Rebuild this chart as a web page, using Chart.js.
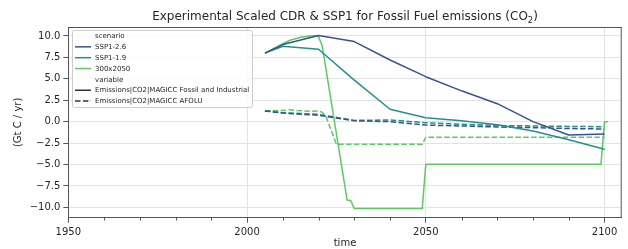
<!DOCTYPE html>
<html>
<head>
<meta charset="utf-8">
<script src="https://cdn.jsdelivr.net/npm/chart.js@4.4.1/dist/chart.umd.min.js"></script>
<style>
  html, body { margin: 0; padding: 0; background: #ffffff; }
  #wrap { width: 628px; height: 249px; }
</style>
</head>
<body>
<div id="wrap"><canvas id="c" width="628" height="249"></canvas></div>
<script>
// ---------------- data ----------------
const titleMain = "Experimental Scaled CDR & SSP1 for Fossil Fuel emissions (CO";
const titleSub = "2";
const titleEnd = ")";
const xLabel = "time";
const yLabel = "(Gt C / yr)";

const scenarioNames = ["SSP1-2.6", "SSP1-1.9", "300x2050"];
const variableNames = ["Emissions|CO2|MAGICC Fossil and Industrial", "Emissions|CO2|MAGICC AFOLU"];

const sspYears = [2005, 2010, 2020, 2030, 2040, 2050, 2060, 2070, 2080, 2090, 2100];
const ssp126Fossil = [8.0, 9.0, 10.05, 9.35, 7.2, 5.25, 3.6, 2.1, 0.0, -1.55, -1.45];
const ssp119Fossil = [8.0, 8.8, 8.45, 4.85, 1.45, 0.45, 0.1, -0.35, -1.1, -2.1, -3.23];
const ssp126Afolu = [1.25, 1.0, 0.75, 0.1, 0.0, -0.4, -0.5, -0.62, -0.7, -0.8, -0.86];
const ssp119Afolu = [1.25, 1.05, 0.85, 0.15, 0.2, -0.12, -0.3, -0.45, -0.5, -0.55, -0.6];

const cdrFossilYears = [2005, 2010, 2012, 2015, 2019, 2020, 2021, 2028, 2029, 2030, 2049, 2050, 2099, 2100, 2101];
const cdrFossil = [8.0, 9.1, 9.5, 9.85, 10.05, 9.9, 8.9, -9.15, -9.2, -10.15, -10.15, -4.98, -4.98, 0.0, 0.0];
const cdrAfoluYears = [2005, 2010, 2012, 2014, 2016, 2018, 2020, 2021, 2022, 2025, 2049, 2050, 2100];
const cdrAfolu = [1.25, 1.3, 1.4, 1.3, 1.25, 1.2, 1.25, 1.1, 0.7, -2.65, -2.65, -1.82, -1.82];

const yTickValues = [-10, -7.5, -5, -2.5, 0, 2.5, 5, 7.5, 10];
const xTickValues = [1950, 1960, 1970, 1980, 1990, 2000, 2010, 2020, 2030, 2040, 2050, 2060, 2070, 2080, 2090, 2100];
const xMajorTicks = [1950, 2000, 2050, 2100];

// ---------------- style ----------------
const FONT = "'DejaVu Sans', 'Liberation Sans', sans-serif";
const colors = ["#3b528b", "#21918c", "#5ec962"];
const DASH = [5.5, 2.4];
const TXT = "#262626";
const SPINE = "#555555";
const GRID = "#e3e3e3";

function pts(xs, ys) { return xs.map((x, i) => ({ x: x, y: ys[i] })); }

function ds(label, data, color, dashed) {
  return {
    label: label, data: data, borderColor: color, backgroundColor: color,
    borderWidth: 1.5, borderDash: dashed ? DASH : [], pointRadius: 0,
    tension: 0, fill: false, borderCapStyle: 'butt', borderJoinStyle: 'round'
  };
}

const datasets = [
  ds(scenarioNames[0] + " fossil", pts(sspYears, ssp126Fossil), colors[0], false),
  ds(scenarioNames[1] + " fossil", pts(sspYears, ssp119Fossil), colors[1], false),
  ds(scenarioNames[2] + " fossil", pts(cdrFossilYears, cdrFossil), colors[2], false),
  ds(scenarioNames[0] + " afolu", pts(sspYears, ssp126Afolu), colors[0], true),
  ds(scenarioNames[1] + " afolu", pts(sspYears, ssp119Afolu), colors[1], true),
  ds(scenarioNames[2] + " afolu", pts(cdrAfoluYears, cdrAfolu), colors[2], true)
];

function fmtY(v) {
  const s = Number(v).toFixed(1);
  return s.replace('-', '\u2212');
}

const overlay = {
  id: 'overlay',
  afterDraw(chart) {
    const ctx = chart.ctx;
    const a = chart.chartArea;
    const xs = chart.scales.x;
    ctx.save();
    // top and right spines
    ctx.strokeStyle = SPINE;
    ctx.lineWidth = 1;
    ctx.beginPath();
    ctx.moveTo(a.left, a.top + 0.5);
    ctx.lineTo(a.right, a.top + 0.5);
    ctx.moveTo(a.right - 0.5, a.top);
    ctx.lineTo(a.right - 0.5, a.bottom);
    ctx.stroke();
    // minor ticks
    ctx.beginPath();
    xTickValues.forEach(v => {
      if (xMajorTicks.indexOf(v) >= 0) return;
      const px = Math.round(xs.getPixelForValue(v)) + 0.5;
      ctx.moveTo(px, a.bottom);
      ctx.lineTo(px, a.bottom + 2.8);
    });
    ctx.stroke();

    // title
    ctx.fillStyle = TXT;
    ctx.textBaseline = 'alphabetic';
    ctx.textAlign = 'left';
    ctx.font = "12px " + FONT;
    const w1 = ctx.measureText(titleMain).width;
    const w3 = ctx.measureText(titleEnd).width;
    ctx.font = "8.4px " + FONT;
    const w2 = ctx.measureText(titleSub).width;
    const total = w1 + w2 + w3;
    const cx = (a.left + a.right) / 2;
    let tx = cx - total / 2;
    const ty = 20.4;
    ctx.font = "12px " + FONT;
    ctx.fillText(titleMain, tx, ty);
    ctx.font = "8.4px " + FONT;
    ctx.fillText(titleSub, tx + w1, ty + 2.2);
    ctx.font = "12px " + FONT;
    ctx.fillText(titleEnd, tx + w1 + w2, ty);

    // axis labels
    ctx.font = "10px " + FONT;
    ctx.textAlign = 'center';
    ctx.textBaseline = 'middle';
    ctx.fillText(xLabel, cx, 243.5);
    ctx.save();
    ctx.translate(18.5, (a.top + a.bottom) / 2);
    ctx.rotate(-Math.PI / 2);
    ctx.fillText(yLabel, 0, 0);
    ctx.restore();

    // legend
    const lx = 72, ly = 30, lw = 180, lh = 77;
    ctx.fillStyle = 'rgba(255,255,255,0.8)';
    ctx.strokeStyle = '#cccccc';
    ctx.lineWidth = 1;
    ctx.beginPath();
    if (ctx.roundRect) { ctx.roundRect(lx + 0.5, ly + 0.5, lw, lh, 2); }
    else { ctx.rect(lx + 0.5, ly + 0.5, lw, lh); }
    ctx.fill();
    ctx.stroke();

    const rows = [
      { text: "scenario", color: null },
      { text: scenarioNames[0], color: colors[0], dash: false },
      { text: scenarioNames[1], color: colors[1], dash: false },
      { text: scenarioNames[2], color: colors[2], dash: false },
      { text: "variable", color: null },
      { text: variableNames[0], color: "#333333", dash: false },
      { text: variableNames[1], color: "#333333", dash: true }
    ];
    ctx.font = "7px " + FONT;
    ctx.textAlign = 'left';
    ctx.textBaseline = 'middle';
    rows.forEach((r, i) => {
      const y = 36 + i * 10.85;
      if (r.color) {
        ctx.strokeStyle = r.color;
        ctx.lineWidth = 1.5;
        ctx.setLineDash(r.dash ? DASH : []);
        ctx.beginPath();
        ctx.moveTo(75, y);
        ctx.lineTo(91, y);
        ctx.stroke();
        ctx.setLineDash([]);
      }
      ctx.fillStyle = TXT;
      ctx.fillText(r.text, 95, y + 0.3);
    });
    ctx.restore();
  }
};

new Chart(document.getElementById('c'), {
  type: 'line',
  data: { datasets: datasets },
  plugins: [overlay],
  options: {
    responsive: false,
    animation: false,
    events: [],
    layout: { padding: { top: 27, right: 6.3, left: 0, bottom: 0 } },
    plugins: { legend: { display: false }, title: { display: false }, tooltip: { enabled: false } },
    scales: {
      x: {
        type: 'linear',
        min: 1950,
        max: 2104.8,
        afterBuildTicks: (s) => { s.ticks = xTickValues.map(v => ({ value: v })); },
        afterFit: (s) => { s.height = 31.3; },
        ticks: {
          autoSkip: false, maxRotation: 0, padding: 3.5,
          color: TXT, font: { family: FONT, size: 10 },
          callback: (v) => (xMajorTicks.indexOf(v) >= 0 ? String(v) : '')
        },
        grid: {
          color: (c) => (c.tick && xMajorTicks.indexOf(c.tick.value) >= 0 ? GRID : 'rgba(0,0,0,0)'),
          tickColor: (c) => (c.tick && xMajorTicks.indexOf(c.tick.value) >= 0 ? SPINE : 'rgba(0,0,0,0)'),
          tickLength: 5, lineWidth: 1
        },
        border: { display: true, color: SPINE, width: 1 }
      },
      y: {
        type: 'linear',
        min: -11.21,
        max: 11.05,
        afterBuildTicks: (s) => { s.ticks = yTickValues.map(v => ({ value: v })); },
        afterFit: (s) => { s.width = 68.3; },
        ticks: {
          padding: 3, color: TXT, font: { family: FONT, size: 10 },
          callback: (v) => fmtY(v)
        },
        grid: { color: GRID, tickColor: SPINE, tickLength: 5, lineWidth: 1 },
        border: { display: true, color: SPINE, width: 1 }
      }
    }
  }
});
</script>
</body>
</html>
